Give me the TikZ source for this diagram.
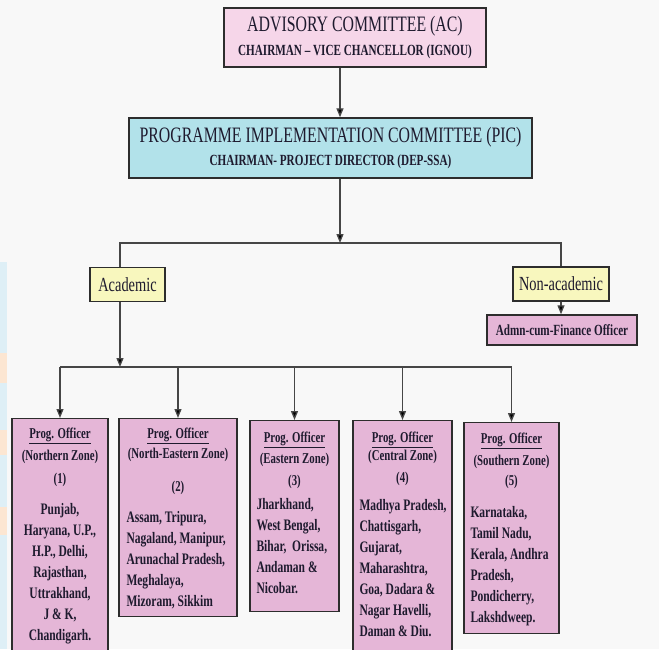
\documentclass[tikz,border=0pt]{standalone}
\usepackage{fontspec}
\setmainfont[FakeStretch=0.72]{Liberation Serif}
\usetikzlibrary{positioning,arrows.meta}
\definecolor{fondo}{RGB}{248,248,248}
\definecolor{azulfondo}{RGB}{222,239,246}
\definecolor{naranjafondo}{RGB}{252,230,210}
\definecolor{rosaclaro}{RGB}{246,214,233}
\definecolor{rosa}{RGB}{229,182,215}
\definecolor{celeste}{RGB}{178,226,234}
\definecolor{amarillo}{RGB}{248,247,190}
\definecolor{borde}{RGB}{45,45,45}
\definecolor{linea}{RGB}{70,70,70}
\definecolor{texto}{RGB}{30,26,46}
\tikzset{
    caja/.style={draw=borde, line width=1.4pt, inner sep=0pt, text=texto, align=center},
    oficial/.style={caja, fill=rosa},
    cabecera/.style={inner sep=0pt, align=center, text=texto, font=\bfseries\fontsize{15}{21}\selectfont},
    cuerpo/.style={inner sep=0pt, align=left, text=texto, font=\bfseries\fontsize{16}{21}\selectfont},
    conector/.style={draw=linea, line width=1.3pt},
    flecha/.style={conector, -{Triangle[width=7pt,length=9pt,fill=black]}}
}
\begin{document}
\begin{tikzpicture}[x=1pt, y=-1pt]
        % Fondo
        \useasboundingbox (0,0) rectangle (659,649);
        \clip (0,0) rectangle (659,649);
        \fill[fondo] (0,0) rectangle (659,649);
        \fill[azulfondo] (0,262) rectangle (7,649);
        \foreach \a/\b in {353/383, 430/455, 507/535}
            \fill[naranjafondo] (0,\a) rectangle (7,\b);
        % Comites
        \node[caja, fill=rosaclaro, minimum width=262pt, minimum height=59pt,
            font=\fontsize{22}{24}\selectfont] (ac) at (355,37.5)
            {ADVISORY COMMITTEE (AC)\\{\bfseries\fontsize{15.5}{24}\selectfont CHAIRMAN -- VICE CHANCELLOR (IGNOU)}};
        \node[caja, fill=celeste, minimum width=403pt, minimum height=60pt,
            font=\fontsize{22}{23}\selectfont] (pic) at (330.5,148)
            {PROGRAMME IMPLEMENTATION COMMITTEE (PIC)\\{\bfseries\fontsize{15.5}{23}\selectfont CHAIRMAN- PROJECT DIRECTOR (DEP-SSA)}};
        % Ramas
        \node[caja, fill=amarillo, minimum width=75pt, minimum height=34pt,
            font=\fontsize{20}{22}\selectfont] (acad) at (127.5,284.5) {Academic};
        \node[caja, fill=amarillo, minimum width=96pt, minimum height=34pt,
            font=\fontsize{20}{22}\selectfont] (noacad) at (561,284) {Non-academic};
        \node[caja, fill=rosa, minimum width=150pt, minimum height=30pt,
            font=\bfseries\fontsize{15.5}{18}\selectfont] (admn) at (562,330) {Admn-cum-Finance Officer};
        % Oficiales de programa
        \node[oficial, anchor=north, minimum width=96pt, minimum height=240pt] (o1) at (60,418) {};
        \node[oficial, anchor=north, minimum width=118pt, minimum height=198pt] (o2) at (178,418) {};
        \node[oficial, anchor=north, minimum width=89pt, minimum height=191pt] (o3) at (294.5,420) {};
        \node[oficial, anchor=north, minimum width=99pt, minimum height=240pt] (o4) at (402.5,420) {};
        \node[oficial, anchor=north, minimum width=95pt, minimum height=211pt] (o5) at (511.5,422) {};
        \node[cabecera, below=10pt of o1.north] (c1) {\underline{Prog. Officer}\\[1pt](Northern Zone)\\[2pt](1)};
        \node[cabecera, below=10pt of o2.north] (c2) {\underline{Prog. Officer}\\[-1pt](North-Eastern Zone)\\[12pt](2)};
        \node[cabecera, below=12pt of o3.north] (c3) {\underline{Prog. Officer}\\(Eastern Zone)\\[1pt](3)};
        \node[cabecera, below=12pt of o4.north] (c4) {\underline{Prog. Officer}\\[-3pt](Central Zone)\\[1pt](4)};
        \node[cabecera, below=11pt of o5.north] (c5) {\underline{Prog. Officer}\\[1pt](Southern Zone)\\[-1pt](5)};
        \node[cuerpo, align=center, below=85pt of o1.north] (d1)
            {Punjab,\\Haryana, U.P.,\\H.P., Delhi,\\Rajasthan,\\Uttrakhand,\\J \& K,\\Chandigarh.};
        \node[cuerpo, below right=93pt and 8pt of o2.north west] (d2)
            {Assam, Tripura,\\Nagaland, Manipur,\\Arunachal Pradesh,\\Meghalaya,\\Mizoram, Sikkim};
        \node[cuerpo, below right=78pt and 7pt of o3.north west] (d3)
            {Jharkhand,\\West Bengal,\\Bihar,\ \ Orissa,\\Andaman \&\\Nicobar.};
        \node[cuerpo, below right=79pt and 7pt of o4.north west] (d4)
            {Madhya Pradesh,\\Chattisgarh,\\Gujarat,\\Maharashtra,\\Goa, Dadara \&\\Nagar Havelli,\\Daman \& Diu.};
        \node[cuerpo, below right=84pt and 7pt of o5.north west] (d5)
            {Karnataka,\\Tamil Nadu,\\Kerala, Andhra\\Pradesh,\\Pondicherry,\\Lakshdweep.};
        % Conectores
        \coordinate (eje) at (340,0);
        \coordinate (ramal) at (340,243);
        \coordinate (acx) at (120,0);
        \coordinate (ramaldos) at (120,367);
        \draw[flecha] (ac.south -| eje) -- (pic.north -| eje);
        \draw[conector] (acad.north -| acx) |- (ramal) -| (noacad.north);
        \draw[flecha] (pic.south -| eje) -- (ramal);
        \draw[flecha] (noacad.south) -- (noacad.south |- admn.north);
        \draw[conector] (o1.north |- ramaldos) -- (o5.north |- ramaldos);
        \draw[flecha] (acad.south -| acx) -- (ramaldos);
        \foreach \o in {o1,o2,o3,o4,o5}
            \draw[flecha] (\o.north |- ramaldos) -- (\o.north);
    \end{tikzpicture}
\end{document}
